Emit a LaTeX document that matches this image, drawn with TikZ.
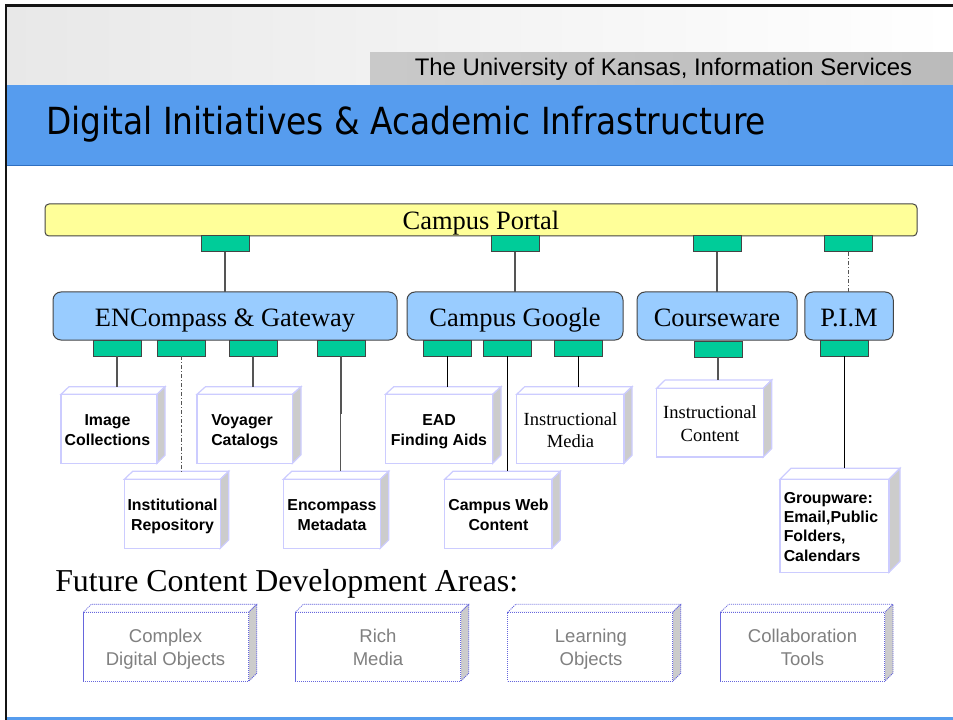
\documentclass[tikz,border=0pt]{standalone}
\usepackage{fontspec}
\setmainfont{Liberation Serif}
\setsansfont{Liberation Sans}
\newfontfamily\titlefont[FakeStretch=0.88]{DejaVu Sans}
\usetikzlibrary{calc}
\definecolor{bandblue}{HTML}{569CEE}
\definecolor{banddark}{HTML}{2F6FC0}
\definecolor{portalfill}{HTML}{FFFF99}
\definecolor{midfill}{HTML}{99CCFF}
\definecolor{portgreen}{HTML}{00CC99}
\definecolor{edgegray}{HTML}{444444}
\definecolor{linegray}{HTML}{555555}
\definecolor{lav}{HTML}{CCCCFF}
\definecolor{lavdot}{HTML}{6666DD}
\definecolor{sidegray}{HTML}{CCCCCC}
\definecolor{futuretext}{HTML}{808080}
\tikzset{
  x=0.75pt,y=-0.75pt,
  portbox/.style={draw=edgegray,fill=portgreen,line width=0.75pt,minimum width=36pt,minimum height=12pt,inner sep=0pt,outer sep=0pt},
  midbox/.style={draw=edgegray,fill=midfill,line width=0.75pt,rounded corners=6pt,inner sep=0pt,outer sep=0pt,minimum height=36pt,text height=15pt,text depth=0pt,font=\fontsize{19.85}{24}\selectfont},
  solidcube/.style={draw=lav,line width=0.9pt},
  dotcube/.style={draw=lavdot,line width=0.55pt,dash pattern=on 0.8pt off 0.7pt},
  boldlabel/.style={font=\sffamily\bfseries\fontsize{11.9}{14.4}\selectfont,align=center,inner sep=0pt,anchor=base},
  widebold/.style={font=\sffamily\bfseries\fontsize{11.9}{15.5}\selectfont,align=center,inner sep=0pt,anchor=base},
  leftbold/.style={font=\sffamily\bfseries\fontsize{11.9}{14.4}\selectfont,align=left,inner sep=0pt,anchor=base west},
  seriflabel/.style={font=\fontsize{13.9}{16.7}\selectfont,align=center,inner sep=0pt,anchor=base},
  futurelabel/.style={font=\sffamily\fontsize{13.9}{16.7}\selectfont,text=futuretext,align=center,inner sep=0pt,anchor=base},
  link/.style={draw=linegray,line width=0.85pt},
  blacklink/.style={draw=black,line width=0.6pt},
  dashlink/.style={draw=linegray,line width=0.75pt,dash pattern=on 3pt off 1.5pt on 0.8pt off 1.5pt},
}
% name, x0, x1, xr, ytop, yfront, ybottom, style
\newcommand{\cubebox}[8]{%
  \pgfmathsetmacro{\dd}{#4-#3}%
  \path[#8,fill=white] (#2,#6) -- ({#2+\dd},#5) -- (#4,#5) -- (#3,#6) -- cycle;
  \path[#8,fill=sidegray] (#3,#6) -- (#4,#5) -- (#4,{#7-\dd}) -- (#3,#7) -- cycle;
  \node[#8,fill=white,inner sep=0pt,outer sep=0pt,minimum width={(#3-#2)*0.75pt},minimum height={(#7-#6)*0.75pt}] (#1) at ({(#2+#3)/2},{(#6+#7)/2}) {};
  \coordinate (#1-top) at (#3,#5);
}
\newcommand{\portnode}[3]{\node[portbox,anchor=north west] (#1) at (#2,#3) {};}
\begin{document}
\begin{tikzpicture}
\useasboundingbox (0,0) rectangle (953,720);
\fill[white] (0,0) rectangle (953,720);
% header
\shade[left color=black!9,right color=white] (7,7) rectangle (953,85);
\shade[left color=black!21,right color=black!27] (370,53) rectangle (953,85);
\fill[bandblue] (7,85.5) rectangle (953,165);
\draw[banddark,line width=0.6pt] (7,165.5) -- (953,165.5);
\fill[bandblue] (7,716.7) rectangle (953,720);
\draw[black!92,line width=1.8pt] (6.2,720) -- (6.2,5.5) -- (953,5.5);
\node[font=\sffamily\fontsize{17.95}{20}\selectfont,inner sep=0pt,anchor=base] (org) at (663.5,76) {The University of Kansas, Information Services};
\node[font=\titlefont\fontsize{28}{34}\selectfont,inner sep=0pt,anchor=base west] (title) at (46,134.3) {Digital Initiatives \& Academic Infrastructure};
% portal
\node[draw=edgegray,fill=portalfill,line width=0.75pt,rounded corners=3pt,minimum width={872*0.75pt},minimum height=24pt,text height=15pt,text depth=0pt,inner sep=0pt,outer sep=0pt,font=\fontsize{19.85}{24}\selectfont] (portal) at (481,220) {Campus Portal};
% middle boxes
\node[midbox,minimum width={344*0.75pt}] (enc) at (225,316) {ENCompass \& Gateway};
\node[midbox,minimum width={216*0.75pt}] (goog) at (515,316) {Campus Google};
\node[midbox,minimum width={160*0.75pt}] (course) at (717,316) {Courseware};
\node[midbox,minimum width={88.5*0.75pt}] (pim) at (849,316) {P.I.M};
% ports below the portal
\portnode{pa}{201}{236}
\portnode{pb}{491}{236}
\portnode{pc}{693}{236}
\portnode{pd}{824}{236}
% ports below the middle boxes
\portnode{ea}{93}{340}
\portnode{eb}{157.5}{340}
\portnode{ec}{229}{340}
\portnode{ed}{317}{340}
\portnode{ga}{423}{340}
\portnode{gb}{483.3}{340}
\portnode{gc}{554.5}{340}
\portnode{ca}{694}{341}
\portnode{pm}{820.7}{340}
% content cubes
\cubebox{img}{61}{157}{165}{386.7}{394.3}{463.3}{solidcube}
\cubebox{voy}{197}{292.5}{301}{386.7}{394.3}{463.3}{solidcube}
\cubebox{ead}{385.5}{492.7}{501}{386.7}{394.3}{463.3}{solidcube}
\cubebox{med}{516.7}{624}{632}{386.7}{394.3}{463.3}{solidcube}
\cubebox{con}{656.7}{763.3}{771.7}{380}{388.3}{457}{solidcube}
\cubebox{rep}{124.3}{220.3}{228.7}{471.3}{479.3}{548.3}{solidcube}
\cubebox{meta}{283.3}{380.3}{388.7}{471.3}{479.3}{548.3}{solidcube}
\cubebox{web}{444.7}{552}{560.3}{471.3}{479.3}{548.3}{solidcube}
\cubebox{grp}{780}{889}{900}{468.3}{479.3}{572.3}{solidcube}
\node[boldlabel] (imgt) at (107.5,445) {Image\\Collections};
\node[leftbold] (voyt) at (211,445) {Voyager\\Catalogs};
\node[boldlabel] (eadt) at (439,445) {EAD\\Finding Aids};
\node[seriflabel] (medt) at (570.5,447.3) {Instructional\\Media};
\node[seriflabel] (cont) at (710,441) {Instructional\\Content};
\node[widebold] (rept) at (172.5,530.7) {Institutional\\Repository};
\node[widebold] (metat) at (332,530.7) {Encompass\\Metadata};
\node[widebold] (webt) at (498.5,530.7) {Campus Web\\Content};
\node[leftbold] (grpt) at (783.5,561) {Groupware:\\Email,Public\\Folders,\\Calendars};
% future
\node[font=\fontsize{23.9}{28}\selectfont,inner sep=0pt,anchor=base west] (future) at (55,591.7) {Future Content Development Areas:};
\cubebox{fa}{83.3}{248.7}{256.7}{604.3}{612.3}{681.3}{dotcube}
\cubebox{fb}{295.3}{460.7}{468.7}{604.3}{612.3}{681.3}{dotcube}
\cubebox{fc}{507.7}{672.7}{680.7}{604.3}{612.3}{681.3}{dotcube}
\cubebox{fd}{720.3}{884.7}{893}{604.3}{612.3}{681.3}{dotcube}
\node[futurelabel] (fat) at (165.5,665) {Complex\\Digital Objects};
\node[futurelabel] (fbt) at (378,665) {Rich\\Media};
\node[futurelabel] (fct) at (591,665) {Learning\\Objects};
\node[futurelabel] (fdt) at (802.5,665) {Collaboration\\Tools};
% connectors
\draw[link] (pa.south) -- (pa.south |- enc.north);
\draw[link] (pb.south) -- (pb.south |- goog.north);
\draw[link] (pc.south) -- (pc.south |- course.north);
\draw[dashlink] (pd.south) -- (pd.south |- pim.north);
\draw[link] (ea.south) -- (ea.south |- img-top);
\draw[dashlink] (eb.south) -- (eb.south |- rep-top);
\draw[link] (ec.south) -- (ec.south |- voy-top);
\coordinate (jog) at (340.3,413);
\draw[link] (ed.south) -- (ed.south |- jog) -- (jog) -- (jog |- meta-top);
\draw[blacklink] (ga.south) -- (ga.south |- ead-top);
\draw[blacklink] (gb.south) -- (gb.south |- web-top);
\draw[blacklink] (gc.south) -- (gc.south |- med-top);
\draw[link] (ca.south) -- (ca.south |- con-top);
\draw[blacklink] (pm.south) -- (pm.south |- grp-top);
\end{tikzpicture}
\end{document}
